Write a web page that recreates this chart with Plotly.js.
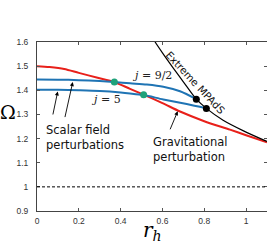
<!DOCTYPE html>
<html>
<head>
<meta charset="utf-8">
<script src="https://cdn.plot.ly/plotly-3.0.1.min.js"></script>
<style>html,body{margin:0;padding:0;background:#fff;}#plot{width:267px;height:243px;}</style>
</head>
<body>
<div id="plot"></div>
<script>
// Gravitational perturbation (red)
const gravX = [0, 0.06, 0.13, 0.2, 0.29, 0.37, 0.445, 0.51, 0.6, 0.684, 0.8, 0.923, 1.0, 1.1];
const gravY = [1.5, 1.496, 1.488, 1.472, 1.452, 1.434, 1.406, 1.382, 1.347, 1.312, 1.272, 1.237, 1.214, 1.185];
// Scalar field j = 9/2 (upper blue)
const j92X = [0, 0.1, 0.2, 0.3, 0.37, 0.445, 0.525, 0.604, 0.684, 0.762];
const j92Y = [1.445, 1.444, 1.442, 1.438, 1.434, 1.429, 1.424, 1.415, 1.396, 1.363];
// Scalar field j = 5 (lower blue)
const j5X = [0, 0.1, 0.2, 0.3, 0.4, 0.445, 0.51, 0.604, 0.716, 0.81];
const j5Y = [1.402, 1.402, 1.400, 1.397, 1.391, 1.387, 1.380, 1.362, 1.343, 1.325];
// Extreme MPAdS (black)
const extX = [0.555, 0.565, 0.6, 0.65, 0.7, 0.762, 0.81, 0.89, 0.99, 1.1];
const extY = [1.615, 1.6, 1.555, 1.494, 1.435, 1.363, 1.325, 1.276, 1.231, 1.188];
// crossings
const greenX = [0.37, 0.51];
const greenY = [1.434, 1.381];
const blackX = [0.762, 0.81];
const blackY = [1.363, 1.325];
// reference level
const refLevel = 1;
const xTicks = [0, 0.2, 0.4, 0.6, 0.8, 1];
const xTickText = ['0', '0.2', '0.4', '0.6', '0.8', '1'];
const yTicks = [0.9, 1, 1.1, 1.2, 1.3, 1.4, 1.5, 1.6];
const yTickText = ['0.9', '1', '1.1', '1.2', '1.3', '1.4', '1.5', '1.6'];

const RED = '#e8201a', BLUE = '#1f74b4', GREEN = '#1fa27a';
const traces = [
  {x: gravX, y: gravY, mode: 'lines', line: {color: RED, width: 2, shape: 'spline', smoothing: 0.8}},
  {x: j92X, y: j92Y, mode: 'lines', line: {color: BLUE, width: 2, shape: 'spline', smoothing: 0.8}},
  {x: j5X, y: j5Y, mode: 'lines', line: {color: BLUE, width: 2, shape: 'spline', smoothing: 0.8}},
  {x: extX, y: extY, mode: 'lines', line: {color: '#000', width: 1.2, shape: 'spline', smoothing: 0.8}},
  {x: greenX, y: greenY, mode: 'markers', marker: {color: GREEN, size: 7}},
  {x: blackX, y: blackY, mode: 'markers', marker: {color: '#000', size: 7}}
];

const txtFont = {family: 'DejaVu Sans', size: 11.5, color: '#111'};
const mathFont = {family: 'DejaVu Serif', size: 11, color: '#222'};
const arrowBase = {text: ' ', font: {size: 1}, borderpad: 0, showarrow: true, arrowhead: 2, arrowsize: 0.9, arrowwidth: 0.9, arrowcolor: '#000', xref: 'x', yref: 'y'};

const layout = {
  width: 267, height: 243,
  margin: {l: 37, r: 0, t: 42, b: 32},
  paper_bgcolor: '#fff', plot_bgcolor: '#fff',
  showlegend: false,
  xaxis: {range: [0, 1.1], tickvals: xTicks, ticktext: xTickText, ticks: 'inside', ticklen: 3, tickcolor: '#555',
          showgrid: false, zeroline: false, showline: true, linecolor: '#444', linewidth: 1, mirror: 'ticks',
          tickfont: {family: 'Liberation Sans', size: 8.5, color: '#333'}, ticklabelstandoff: 2, fixedrange: true},
  yaxis: {range: [0.9, 1.6], tickvals: yTicks, ticktext: yTickText, ticks: 'inside', ticklen: 3, tickcolor: '#555',
          showgrid: false, zeroline: false, showline: true, linecolor: '#444', linewidth: 1, mirror: 'ticks',
          tickfont: {family: 'Liberation Sans', size: 8.5, color: '#333'}, ticklabelstandoff: 6, fixedrange: true},
  shapes: [
    {type: 'line', xref: 'x', yref: 'y', x0: 0, x1: 1.1, y0: refLevel, y1: refLevel, line: {color: '#000', width: 1, dash: '3px,2px'}}
  ],
  annotations: [
    {text: 'Scalar field<br>perturbations', x: 0.034, y: 1.206, xref: 'x', yref: 'y', xanchor: 'left', yanchor: 'middle', align: 'left', showarrow: false, font: txtFont},
    {text: 'Gravitational<br>perturbation', x: 0.545, y: 1.156, xref: 'x', yref: 'y', xanchor: 'left', yanchor: 'middle', align: 'left', showarrow: false, font: txtFont},
    {text: 'Extreme MPAdS', x: 0.756, y: 1.434, xref: 'x', yref: 'y', textangle: 47, showarrow: false, font: {family: 'DejaVu Sans', size: 10.3, color: '#111'}},
    {text: '<i>j</i> = 9/2', x: 0.55, y: 1.463, xref: 'x', yref: 'y', showarrow: false, font: mathFont},
    {text: '<i>j</i> = 5', x: 0.33, y: 1.363, xref: 'x', yref: 'y', showarrow: false, font: mathFont},
    Object.assign({}, arrowBase, {x: 0.099, y: 1.395, ax: -5, ay: 24}),
    Object.assign({}, arrowBase, {x: 0.171, y: 1.434, ax: -8, ay: 36}),
    Object.assign({}, arrowBase, {x: 0.673, y: 1.313, ax: -8, ay: 19}),
    {text: 'Ω', xref: 'paper', yref: 'paper', x: -0.124, y: 0.586, xanchor: 'center', yanchor: 'middle', showarrow: false, font: {family: 'DejaVu Serif', size: 19, color: '#000'}},
    {text: '<i>r</i><sub><i>h</i></sub>', xref: 'paper', yref: 'paper', x: 0.504, y: -0.118, xanchor: 'center', yanchor: 'middle', showarrow: false, font: {family: 'DejaVu Serif', size: 20, color: '#000'}}
  ]
};

Plotly.newPlot('plot', traces, layout, {staticPlot: true, displayModeBar: false});
</script>
</body>
</html>
